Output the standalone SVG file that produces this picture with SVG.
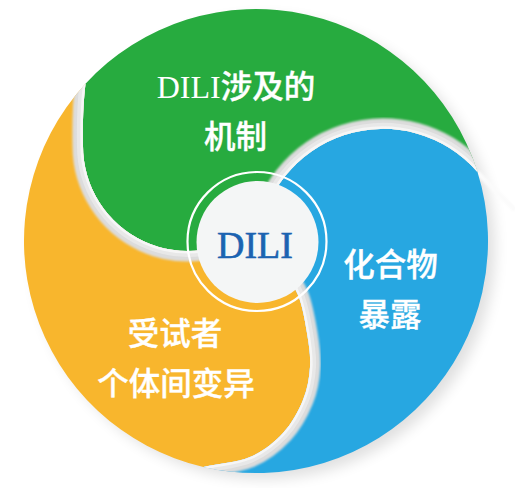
<svg xmlns="http://www.w3.org/2000/svg" width="515" height="488" viewBox="0 0 515 488">
  <style>
    .lbl { font-family: "Noto Sans CJK SC", "Noto Sans CJK JP", sans-serif; font-size: 31.5px; font-weight: 500; fill: #ffffff; text-anchor: middle; stroke: #ffffff; stroke-width: 0.35; }
    .serif { font-family: "Liberation Serif", "Times New Roman", serif; font-weight: 400; }
    .b1 { fill: none; stroke: #dcdcdc; stroke-width: 21; }
    .b2 { fill: none; stroke: #e8e8e8; stroke-width: 12; }
    .b3 { fill: none; stroke: #f6f6f6; stroke-width: 5; }
  </style>
  <defs>
    <filter id="soft" x="-20%" y="-20%" width="140%" height="140%">
      <feGaussianBlur stdDeviation="7"/>
    </filter>
    <filter id="blur1" x="-10%" y="-10%" width="120%" height="120%">
      <feGaussianBlur stdDeviation="1.2"/>
    </filter>
    <path id="pGreen" d="M 85.5 83.7 A 232 232 0 0 1 477.5 172 A 125 125 0 0 0 258.5 243.1 L 255.5 226.4 A 105 105 0 0 1 83 146 C 82.5 122 83.5 100 85.5 83.7 Z"/>
    <path id="pBlue" d="M 477.5 172 A 232 232 0 0 1 203.4 467 C 218.9 463.5 236.7 462.7 250 457 C 263.3 451.3 274.2 442.5 283 433 C 291.8 423.5 298.5 411 303 400 C 307.5 389 309.3 378.2 310 367 C 310.7 355.8 309 345 307 333 C 305 321 302.5 305.8 298 295 C 293.5 284.2 286.7 275.5 280 268 C 273.3 260.5 265.3 256 258 250 L 258.5 243.1 A 125 125 0 0 1 477.5 172 Z"/>
    <path id="pYellow" d="M 203.4 467 A 232 232 0 0 1 85.5 83.7 C 83.5 100 82.5 122 83 146 A 105 105 0 0 0 255.5 226.4 L 258 250 C 265.3 256 273.3 260.5 280 268 C 286.7 275.5 293.5 284.2 298 295 C 302.5 305.8 305 321 307 333 C 309 345 310.7 355.8 310 367 C 309.3 378.2 307.5 389 303 400 C 298.5 411 291.8 423.5 283 433 C 274.2 442.5 263.3 451.3 250 457 C 236.7 462.7 218.9 463.5 203.4 467 Z"/>
    <path id="edgeGreen" d="M 255.5 226.4 A 105 105 0 0 1 83 146 C 82.5 122 83.5 100 85.5 83.7"/>
    <path id="edgeBlue" d="M 258.5 243.1 A 125 125 0 0 1 477.5 172"/>
    <path id="edgeYellow" d="M 203.4 467 C 218.9 463.5 236.7 462.7 250 457 C 263.3 451.3 274.2 442.5 283 433 C 291.8 423.5 298.5 411 303 400 C 307.5 389 309.3 378.2 310 367 C 310.7 355.8 309 345 307 333 C 305 321 302.5 305.8 298 295 C 293.5 284.2 286.7 275.5 280 268 C 273.3 260.5 265.3 256 258 250"/>
    <clipPath id="clipYellow"><use href="#pYellow"/></clipPath>
    <clipPath id="clipGreen"><use href="#pGreen"/></clipPath>
    <clipPath id="clipBlue"><use href="#pBlue"/></clipPath>
  </defs>

  <!-- soft drop shadow -->
  <circle cx="264" cy="248" r="231" fill="#000" opacity="0.12" filter="url(#soft)"/>
  <path d="M 477 172 L 515 210" stroke="#fbfbfb" stroke-width="5" fill="none" filter="url(#blur1)"/>

  <g id="node-subject-variability">
    <use href="#pYellow" fill="#f8b62d"/>
  </g>
  <g id="node-mechanism">
    <use href="#pGreen" fill="#27ab3f"/>
  </g>
  <g id="node-compound-exposure">
    <use href="#pBlue" fill="#27a7e1"/>
  </g>

  <g id="head-shadows">
    <g clip-path="url(#clipYellow)">
      <use href="#edgeGreen" class="b1" filter="url(#blur1)"/>
      <use href="#edgeGreen" class="b2"/>
      <use href="#edgeGreen" class="b3"/>
    </g>
    <g clip-path="url(#clipGreen)">
      <use href="#edgeBlue" class="b1" filter="url(#blur1)"/>
      <use href="#edgeBlue" class="b2"/>
      <use href="#edgeBlue" class="b3"/>
    </g>
    <g clip-path="url(#clipBlue)">
      <use href="#edgeYellow" class="b1" filter="url(#blur1)"/>
      <use href="#edgeYellow" class="b2"/>
      <use href="#edgeYellow" class="b3"/>
    </g>
  </g>

  <g id="node-center">
    <circle cx="257" cy="241.5" r="69.5" fill="none" stroke="#ffffff" stroke-width="2.2"/>
    <circle cx="257.5" cy="242" r="61" fill="#f4f6f6"/>
    <text x="255" y="258" class="serif" font-size="38" fill="#1b63b1" stroke="#1b63b1" stroke-width="0.6" text-anchor="middle">DILI</text>
  </g>

  <g id="labels">
    <text class="lbl" x="236" y="97.5"><tspan class="serif" font-size="32" stroke-width="0">DILI</tspan>涉及的</text>
    <text class="lbl" x="235.5" y="147.8">机制</text>
    <text class="lbl" x="390.5" y="275.8">化合物</text>
    <text class="lbl" x="390" y="325.8">暴露</text>
    <text class="lbl" x="175" y="344.8">受试者</text>
    <text class="lbl" x="176" y="394.8">个体间变异</text>
  </g>
</svg>
